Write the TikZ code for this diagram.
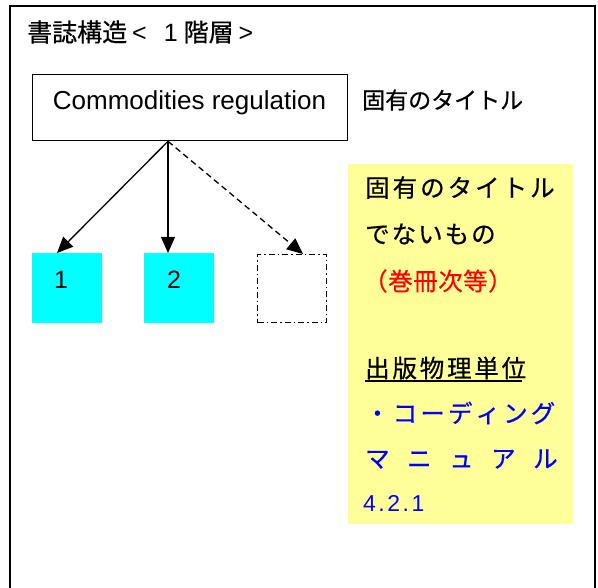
\documentclass[tikz,border=0pt]{standalone}
\usepackage{fontspec}
\setmainfont{Liberation Sans}
\newfontfamily\jp[FakeBold=0.6]{Noto Sans CJK JP}
\usetikzlibrary{arrows.meta,calc}
\definecolor{yel}{HTML}{FFFF99}
\definecolor{cyanbox}{HTML}{00FFFF}
\definecolor{jblue}{HTML}{0000FF}
\makeatletter
\newcommand\spreadjp[2]{\@tfor\sp@tok:=#2\do{\makebox[#1][l]{\sp@tok}}}
\makeatother
\begin{document}
\begin{tikzpicture}[x=1pt,y=-1pt,
  jpfont/.style={font=\jp\fontsize{24.5}{28}\selectfont},
  txt/.style={inner sep=0pt, anchor=west},
  sqbox/.style={minimum width=70pt, minimum height=70pt, inner sep=0pt, anchor=north west},
  arr/.style={line width=1.3pt, -{Triangle[length=16pt,width=14pt]}},
  num/.style={inner sep=0pt, font=\fontsize{25}{28}\selectfont}
]
\useasboundingbox (0,0) rectangle (598,588);
% outer frame
\draw[line width=1.4pt] (10,600) -- (10,6) -- (595,6) -- (595,600);
% title
\node[txt, font=\fontsize{25}{30}\selectfont] (ttl) at (27,32) {{\jp 書誌構造}\hspace{5pt}<\hspace{17pt}1\hspace{6pt}{\jp 階層}\hspace{5pt}>};
% title box
\node[draw, line width=1.3pt, minimum width=315pt, minimum height=66pt, inner sep=0pt, anchor=north west] (box) at (32,74) {};
\node[inner sep=0pt, anchor=base, font=\fontsize{26}{30}\selectfont] (boxtxt) at (189.5,110) {Commodities regulation};
\node[txt, font=\jp\fontsize{23}{28}\selectfont] (proper) at (362,100) {固有のタイトル};
% squares
\node[sqbox, fill=cyanbox] (s1) at (32,253) {};
\node[sqbox, fill=cyanbox] (s2) at (144,253) {};
\node[sqbox, minimum width=69pt, minimum height=68pt, draw, line width=1.2pt, dash pattern=on 6pt off 3pt on 1.5pt off 3pt] (s3) at (257,254) {};
\node[num] (n1) at (61,280) {1};
\node[num] (n2) at (174,280) {2};
% arrows
\coordinate (o) at ($(box.south west)+(136,0)$);
\draw[arr] (o) -- ($(s1.north west)+(25,0)$);
\draw[arr] (o) -- ($(s2.north west)+(24,0)$);
\draw[arr, dash pattern=on 6pt off 4pt] (o) -- ($(s3.north west)+(46,0)$);
% yellow note
\node[fill=yel, minimum width=225pt, minimum height=360pt, inner sep=0pt, anchor=north west] (yb) at (348,164) {};
\node[txt, jpfont] (y1) at (365,187.5) {\spreadjp{27.5pt}{固有のタイトル}};
\node[txt, jpfont] (y2) at (365,234) {\spreadjp{26.5pt}{でないもの}};
\node[txt, jpfont, text=red] (y3) at (363,281) {\spreadjp{25pt}{（巻冊次等）}};
\node[txt, jpfont] (y4) at (365,368) {\spreadjp{27.3pt}{出版物理単位}};
\draw[line width=1.4pt] ($(y4.west)+(0,13)$) -- ++(157,0);
\node[txt, jpfont, text=jblue] (y5) at (365,413) {\spreadjp{27.6pt}{・コーディング}};
\node[txt, jpfont, text=jblue] (y6) at (365,459) {\spreadjp{42pt}{マニュアル}};
\node[txt, font=\fontsize{23}{26}\selectfont, text=jblue] (y7) at (363,503) {4\hspace{2.5pt}.\hspace{2.5pt}2\hspace{2.5pt}.\hspace{2.5pt}1};
\end{tikzpicture}
\end{document}
